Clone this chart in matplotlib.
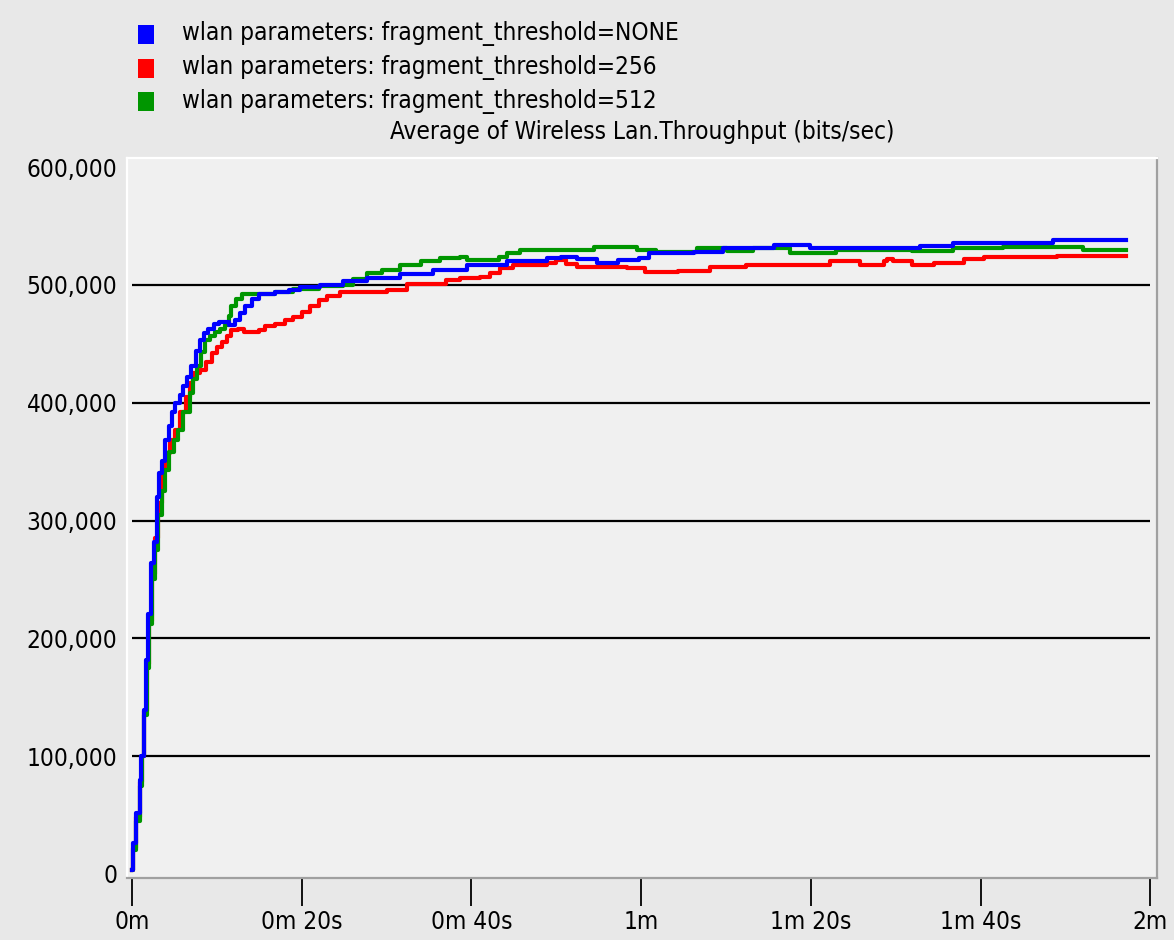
import matplotlib
matplotlib.use("Agg")
import matplotlib.pyplot as plt
from matplotlib import font_manager
from matplotlib.patches import Rectangle
from matplotlib.ticker import FuncFormatter

# ---------------- data ----------------
legend_labels = [
    "wlan parameters: fragment_threshold=NONE",
    "wlan parameters: fragment_threshold=256",
    "wlan parameters: fragment_threshold=512",
]
title_text = "Average of Wireless Lan.Throughput (bits/sec)"

x_ticks = [0, 20, 40, 60, 80, 100, 120]
x_tick_labels = ["0m", "0m 20s", "0m 40s", "1m", "1m 20s", "1m 40s", "2m"]
y_ticks = [0, 100000, 200000, 300000, 400000, 500000, 600000]

# time (s) / throughput (k bits/sec)
t_none = [0.0, 0.1, 0.5, 0.9, 1.1, 1.35, 1.6, 1.9, 2.2, 2.6, 2.9, 3.2, 3.5, 3.9, 4.3, 4.7,
          5.1, 5.6, 6.0, 6.5, 7.0, 7.5, 8.0, 8.5, 9.0, 9.6, 10.2, 11.4, 12.1, 12.7, 13.3,
          14.1, 14.9, 16.9, 18.5, 19.8, 22.2, 24.9, 27.7, 31.6, 35.5, 39.5, 44.2, 48.9,
          50.5, 52.4, 54.8, 57.3, 59.7, 60.9, 66.2, 69.7, 75.6, 79.9, 92.9, 96.8, 108.6, 117.1]
v_none = [3, 26, 52, 80, 100, 139, 182, 221, 264, 282, 320, 340, 351, 368, 380, 392,
          400, 407, 414, 422, 431, 444, 453, 459, 463, 467, 469, 466, 470, 476, 482,
          488, 492, 494, 496, 498, 500, 503, 506, 509, 513, 517, 520, 523,
          524, 522, 519, 521, 523, 527, 528, 531, 534, 531, 533, 536, 538, 538]

t_256 = [0.0, 0.1, 0.5, 0.9, 1.2, 1.45, 1.7, 2.0, 2.3, 2.7, 3.1, 3.5, 4.0, 4.5, 5.1, 5.7,
         6.4, 6.8, 7.2, 8.0, 8.7, 9.4, 10.0, 10.6, 11.2, 11.7, 12.5, 13.2, 14.1, 15.0,
         15.7, 16.8, 18.0, 19.0, 20.0, 21.0, 22.0, 23.0, 24.5, 30.0, 32.4, 37.0, 38.7,
         41.0, 42.2, 43.4, 44.9, 48.9, 50.0, 51.2, 52.4, 58.3, 60.5, 64.4, 68.1, 72.3,
         82.2, 85.8, 88.6, 89.0, 89.7, 91.9, 94.5, 98.0, 100.4, 109.0, 117.1]
v_256 = [3, 22, 48, 78, 100, 138, 178, 215, 255, 285, 315, 343, 357, 368, 377, 392,
         405, 417, 425, 428, 435, 442, 447, 452, 457, 462, 463, 460, 460, 462,
         465, 467, 470, 473, 477, 482, 487, 491, 494, 496, 501, 504, 506,
         507, 510, 514, 517, 519, 521, 518, 515, 514, 511, 512, 515, 517,
         520, 517, 520, 522, 520, 517, 519, 522, 523.5, 525, 525]

t_512 = [0.0, 0.1, 0.5, 0.9, 1.2, 1.45, 1.7, 2.0, 2.3, 2.7, 3.1, 3.5, 3.9, 4.4, 4.9, 5.4,
         6.0, 6.8, 7.2, 7.6, 8.1, 8.6, 9.2, 9.8, 10.4, 11.0, 11.4, 11.7, 12.3, 12.9,
         14.9, 16.9, 19.0, 22.0, 24.9, 26.0, 27.7, 29.5, 31.6, 34.0, 36.3, 38.7, 39.5,
         43.2, 44.2, 45.7, 54.4, 59.5, 61.8, 66.6, 70.1, 73.2, 77.6, 83.0, 91.9, 96.8,
         102.7, 112.1, 117.1]
v_512 = [3, 20, 45, 75, 100, 135, 175, 212, 250, 275, 305, 325, 343, 358, 368, 377,
         392, 408, 420, 431, 443, 453, 457, 460, 463, 466, 474, 482, 488, 492,
         492, 494, 497, 499, 500, 505, 510, 513, 517, 520, 523, 524, 521,
         524, 527, 530, 532, 530, 528, 531, 529, 531, 527, 530, 529, 531,
         532, 530, 530]

# ---------------- fonts ----------------
fonts = font_manager.fontManager.ttflist
names = {f.name for f in fonts}
STRETCH = "normal"
if "Liberation Sans Narrow" in names:
    FONT, FS = "Liberation Sans Narrow", 20
elif any(f.name == "DejaVu Sans" and str(f.stretch) in ("condensed", "semi-condensed")
         for f in fonts):
    FONT, FS, STRETCH = "DejaVu Sans", 17.5, "condensed"
else:
    FONT, FS = "DejaVu Sans", 16
plt.rcParams["font.family"] = [FONT, "DejaVu Sans"]
plt.rcParams["font.stretch"] = STRETCH

W, H = 1174, 940
fig = plt.figure(figsize=(W / 100, H / 100), dpi=100)
fig.patch.set_facecolor("#e8e8e8")

left_px, right_px, top_px, bottom_px = 127, 1157, 158, 878
ax = fig.add_axes([left_px / W, (H - bottom_px) / H,
                   (right_px - left_px) / W, (bottom_px - top_px) / H])
ax.set_facecolor("#f0f0f0")

ax.set_xlim(-0.6, 120.8)
ax.set_ylim(-3400, 607800)

# gridlines
ax.hlines([v for v in y_ticks if 0 < v < 600000], 0, 120, colors="black",
          linewidth=1.6, zorder=1)

s = 1000.0
ax.plot(t_256, [v * s for v in v_256], color="#ff0000", lw=3.0,
        drawstyle="steps-post", zorder=3)
ax.plot(t_512, [v * s for v in v_512], color="#009600", lw=3.0,
        drawstyle="steps-post", zorder=4)
ax.plot(t_none, [v * s for v in v_none], color="#0000ff", lw=3.0,
        drawstyle="steps-post", zorder=5)

# ticks
ax.set_xticks(x_ticks)
ax.set_xticklabels(x_tick_labels)
ax.set_yticks(y_ticks)
ax.yaxis.set_major_formatter(FuncFormatter(lambda v, p: f"{int(v):,}"))
ax.tick_params(axis="x", direction="out", length=20, width=1.3, pad=3,
               labelsize=FS, colors="black")
ax.tick_params(axis="y", length=0, pad=7, labelsize=FS, colors="black")

# 3D-like borders
for side in ("left", "top"):
    ax.spines[side].set_color("white")
    ax.spines[side].set_linewidth(1.6)
for side in ("right", "bottom"):
    ax.spines[side].set_color("#a0a0a0")
    ax.spines[side].set_linewidth(1.6)

# legend (manual, OPNET style)
colors = ["#0000ff", "#ff0000", "#009600"]
row_y = [34, 68, 101]
for lab, c, yy in zip(legend_labels, colors, row_y):
    fig.patches.append(Rectangle((138 / W, 1 - (yy + 10) / H), 16 / W, 19 / H,
                                 transform=fig.transFigure, facecolor=c,
                                 edgecolor="none"))
    fig.text(182 / W, 1 - yy / H, lab, fontsize=FS, va="center", ha="left")

fig.text(642 / W, 1 - 132 / H, title_text, fontsize=FS, va="center", ha="center")

fig.savefig("out.png", dpi=100, facecolor=fig.get_facecolor())
